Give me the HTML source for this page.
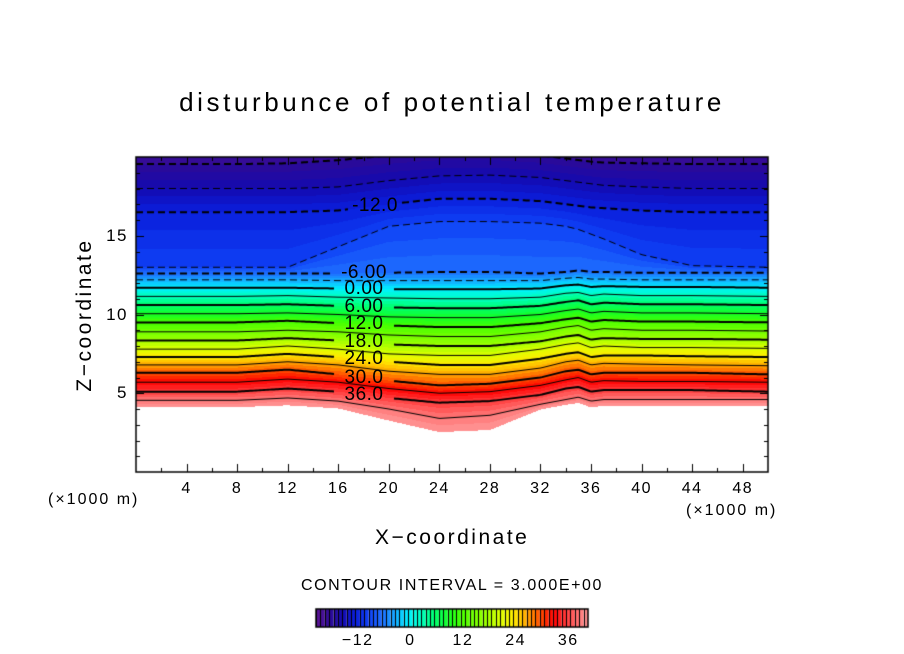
<!DOCTYPE html>
<html><head><meta charset="utf-8">
<style>
body{margin:0;background:#fff;}
#wrap{position:relative;width:904px;height:654px;overflow:hidden;background:#fff;font-family:"Liberation Sans",sans-serif;color:#000;}
.t{position:absolute;white-space:nowrap;}
canvas{position:absolute;left:0;top:0;}
</style></head><body>
<div id="wrap">
<canvas id="cv" width="904" height="654"></canvas>
<div class="t" style="left:0;width:904px;text-align:center;top:87px;font-size:26px;letter-spacing:3.6px;">disturbunce of potential temperature</div>
<div class="t" style="left:85px;top:315px;font-size:21px;letter-spacing:2.5px;transform:translate(-50%,-50%) rotate(-90deg);">Z−coordinate</div>
<div class="t" style="left:375px;top:526px;font-size:21px;letter-spacing:2.5px;">X−coordinate</div>
<div class="t" style="left:48px;top:491px;font-size:16px;letter-spacing:2px;">(×1000 m)</div>
<div class="t" style="left:686px;top:502px;font-size:16px;letter-spacing:2px;">(×1000 m)</div>
<div class="t" style="left:0;width:904px;text-align:center;top:577px;font-size:16px;letter-spacing:1.6px;">CONTOUR INTERVAL = 3.000E+00</div>
<div id="labels"></div>
</div>
<script>
// ---- data ----
const xs = [0,8,12,16,20,24,28,32,34,35,36,37,40,44,50];
const levels = [-21,-18,-15,-12,-9,-6,-3,0,3,6,9,12,15,18,21,24,27,30,33,36,39,42];
const zL_m21=[21,21,21,21,21,21,21,21,21,21,21,21,21,21,21];
const zL_m18=[19.55,19.55,19.6,19.8,20.1,20.3,20.3,20.1,19.9,19.8,19.7,19.65,19.6,19.55,19.55];
const zL_m15=[18.0,18.0,18.0,18.1,18.5,18.8,18.85,18.7,18.5,18.4,18.3,18.2,18.1,18.0,18.0];
const zL_m12=[16.5,16.5,16.5,16.6,17.0,17.35,17.35,17.2,17.0,16.9,16.8,16.75,16.6,16.5,16.5];
const zL_m9=[13.0,13.0,13.0,14.3,15.6,15.9,15.9,15.8,15.6,15.4,15.1,14.8,13.8,13.1,13.0];
const zL_m6=[12.6,12.6,12.6,12.6,12.65,12.7,12.7,12.6,12.7,12.8,12.7,12.7,12.65,12.65,12.65];
const zL_m3=[12.2,12.2,12.2,12.15,12.15,12.15,12.15,12.15,12.3,12.35,12.25,12.25,12.2,12.2,12.2];
const zL_0=[11.7,11.7,11.7,11.65,11.6,11.6,11.6,11.65,11.85,11.9,11.75,11.8,11.75,11.75,11.7];
const zL_3=[11.15,11.15,11.2,11.1,11.05,11.0,11.0,11.1,11.35,11.4,11.2,11.3,11.2,11.2,11.15];
const zL_6=[10.6,10.6,10.65,10.55,10.45,10.4,10.4,10.55,10.8,10.9,10.65,10.75,10.65,10.65,10.6];
const zL_9=[10.05,10.05,10.1,10.0,9.85,9.8,9.8,10.0,10.25,10.35,10.1,10.2,10.1,10.1,10.05];
const zL_12=[9.5,9.5,9.6,9.45,9.3,9.2,9.2,9.45,9.7,9.8,9.55,9.65,9.55,9.55,9.5];
const zL_15=[8.9,8.9,9.0,8.9,8.7,8.6,8.6,8.9,9.2,9.3,9.0,9.1,9.0,9.0,8.95];
const zL_18=[8.35,8.35,8.5,8.35,8.1,8.0,8.0,8.3,8.6,8.7,8.4,8.5,8.45,8.45,8.4];
const zL_21=[7.8,7.8,8.0,7.8,7.5,7.4,7.4,7.8,8.1,8.2,7.9,8.0,7.9,7.9,7.85];
const zL_24=[7.3,7.3,7.5,7.3,7.0,6.8,6.8,7.2,7.5,7.6,7.3,7.4,7.4,7.35,7.3];
const zL_27=[6.8,6.8,7.0,6.8,6.4,6.2,6.2,6.6,7.0,7.1,6.8,6.9,6.85,6.8,6.75];
const zL_30=[6.3,6.3,6.5,6.2,5.8,5.5,5.6,6.0,6.4,6.5,6.2,6.3,6.3,6.3,6.2];
const zL_33=[5.7,5.7,5.9,5.7,5.3,5.0,5.1,5.5,5.85,6.0,5.7,5.8,5.75,5.75,5.7];
const zL_36=[5.1,5.1,5.3,5.1,4.7,4.4,4.5,4.9,5.3,5.4,5.1,5.2,5.2,5.2,5.1];
const zL_39=[4.55,4.55,4.7,4.5,4.0,3.4,3.6,4.3,4.6,4.75,4.5,4.6,4.6,4.6,4.6];
const zL_42=[3.9,3.9,4.0,3.8,2.9,2.1,2.2,3.8,4.1,4.2,3.9,4.0,4.0,4.0,4.0];
const levelZ=[zL_m21,zL_m18,zL_m15,zL_m12,zL_m9,zL_m6,zL_m3,zL_0,zL_3,zL_6,zL_9,zL_12,zL_15,zL_18,zL_21,zL_24,zL_27,zL_30,zL_33,zL_36,zL_39,zL_42];
const labelLevels=[-12,-6,0,6,12,18,24,30,36];
const labelTexts=["-12.0","-6.00","0.00","6.00","12.0","18.0","24.0","30.0","36.0"];
const xTicks=[4,8,12,16,20,24,28,32,36,40,44,48];
const yTicks=[5,10,15];
const cbMin=-21, cbMax=40;
const cbLabels=[-12,0,12,24,36];
const whiteAbove=41;
// ---- colormap anchors (style) ----
const cmap=[[-21,[95,20,150]],[-18,[45,10,150]],[-15,[20,10,175]],[-12,[10,30,220]],[-9,[15,65,245]],[-6,[30,110,255]],[-3,[20,170,255]],[0,[0,240,255]],[3,[0,255,190]],[6,[0,255,110]],[9,[20,255,40]],[12,[70,255,0]],[18,[160,255,0]],[21,[220,255,0]],[24,[255,235,0]],[27,[255,165,0]],[30,[255,80,0]],[33,[255,0,0]],[36,[255,60,60]],[39,[255,120,120]],[42,[255,165,165]]];
function col(v){
  if(v<=cmap[0][0])return cmap[0][1];
  for(let i=1;i<cmap.length;i++){if(v<=cmap[i][0]){const a=cmap[i-1],b=cmap[i],t=(v-a[0])/(b[0]-a[0]);return a[1].map((c,k)=>Math.round(c+(b[1][k]-c)*t));}}
  return cmap[cmap.length-1][1];
}
// ---- axes ----
const L=136,R=768,T=157,B=472, X0=0,X1=50,Z0=0,Z1=20;
const sx=x=>L+(x-X0)/(X1-X0)*(R-L);
const sy=z=>B-(z-Z0)/(Z1-Z0)*(B-T);
const ix=px=>X0+(px-L)/(R-L)*(X1-X0);
const iz=py=>Z0+(B-py)/(B-T)*(Z1-Z0);
function interpX(arr,x){
  if(x<=xs[0])return arr[0];
  for(let i=1;i<xs.length;i++){if(x<=xs[i]){const t=(x-xs[i-1])/(xs[i]-xs[i-1]);return arr[i-1]+(arr[i]-arr[i-1])*t;}}
  return arr[arr.length-1];
}
function valueAt(zc,z){
  if(z>=zc[0])return levels[0]-(z-zc[0])*2;
  for(let i=1;i<levels.length;i++){if(z>=zc[i]){const t=(zc[i-1]-z)/(zc[i-1]-zc[i]);return levels[i-1]+(levels[i]-levels[i-1])*t;}}
  return 99;
}
const cv=document.getElementById('cv'),ctx=cv.getContext('2d');
const img=ctx.createImageData(R-L,B-T);
for(let px=L;px<R;px++){
  const x=ix(px+0.5);const zc=levelZ.map(a=>interpX(a,x));
  for(let py=T;py<B;py++){
    const v=valueAt(zc,iz(py+0.5));const o=((py-T)*(R-L)+(px-L))*4;
    let c=[255,255,255];
    if(v<=whiteAbove){c=col(Math.floor(v)+0.5);}
    img.data[o]=c[0];img.data[o+1]=c[1];img.data[o+2]=c[2];img.data[o+3]=255;
  }
}
ctx.putImageData(img,L,T);
ctx.save();ctx.beginPath();ctx.rect(L,T,R-L,B-T);ctx.clip();
const lab=document.getElementById('labels');
levels.forEach((lv,i)=>{
  if(lv===-21||lv===42)return;
  const arr=levelZ[i];
  const li=labelLevels.indexOf(lv);
  const gap=li>=0?(lv===-12?[348,402]:[334,394]):null;
  ctx.lineWidth=(lv%6===0)?2:1;ctx.strokeStyle='#000';
  ctx.setLineDash(lv<0?[7,4]:[]);
  ctx.beginPath();let pen=false;
  for(let px=L;px<=R;px+=2){
    const y=sy(interpX(arr,ix(px)));
    if(gap&&px>gap[0]&&px<gap[1]){pen=false;continue;}
    if(!pen){ctx.moveTo(px,y);pen=true;}else ctx.lineTo(px,y);
  }
  ctx.stroke();
  if(li>=0){
    const cx=(gap[0]+gap[1])/2,y=sy(interpX(arr,ix(cx)));
    const d=document.createElement('div');d.className='t';
    
    
    d.textContent=labelTexts[li];
    d.style.cssText='left:'+(cx-40)+'px;width:80px;text-align:center;top:'+(y-11)+'px;font-size:19px;line-height:22px;letter-spacing:0.5px;';
    lab.appendChild(d);
  }
});
ctx.restore();ctx.setLineDash([]);
ctx.strokeStyle='#000';ctx.lineWidth=1.5;ctx.strokeRect(L,T,R-L,B-T);
ctx.lineWidth=1;
for(let x=2;x<50;x+=2){const p=Math.round(sx(x))+0.5,len=(x%4===0)?8:4;
  ctx.beginPath();ctx.moveTo(p,B);ctx.lineTo(p,B-len);ctx.moveTo(p,T);ctx.lineTo(p,T+len);ctx.stroke();}
for(let z=1;z<20;z++){const p=Math.round(sy(z))+0.5,len=(z%5===0)?8:4;
  ctx.beginPath();ctx.moveTo(L,p);ctx.lineTo(L+len,p);ctx.moveTo(R,p);ctx.lineTo(R-len,p);ctx.stroke();}
xTicks.forEach(x=>{const d=document.createElement('div');d.className='t';
  
  
  d.textContent=x;d.style.cssText='left:'+(sx(x)-20)+'px;width:40px;text-align:center;top:480px;font-size:16px;letter-spacing:1.5px;';lab.appendChild(d);});
yTicks.forEach(z=>{const d=document.createElement('div');d.className='t';
  
  
  d.textContent=z;d.style.cssText='left:88px;width:40px;text-align:right;top:'+(sy(z)-10)+'px;font-size:17px;letter-spacing:1.5px;';lab.appendChild(d);});
const CL=316,CR=588,CT=609,CB=627,n=cbMax-cbMin+1,w=(CR-CL)/n;
for(let k=0;k<n;k++){const c=col(cbMin+k+0.5);ctx.fillStyle='rgb('+c.join(',')+')';ctx.fillRect(CL+k*w,CT,w,CB-CT);
  ctx.fillStyle='#000';ctx.fillRect(Math.round(CL+k*w),CT,1,CB-CT);}
ctx.lineWidth=1.5;ctx.strokeRect(CL,CT,CR-CL,CB-CT);
cbLabels.forEach(v=>{const d=document.createElement('div');d.className='t';
  
  
  d.textContent=v<0?'−'+(-v):v;d.style.cssText='left:'+(CL+(v-cbMin+0.5)*w-30)+'px;width:60px;text-align:center;top:632px;font-size:16px;letter-spacing:1.5px;';lab.appendChild(d);});
</script>
</body></html>
